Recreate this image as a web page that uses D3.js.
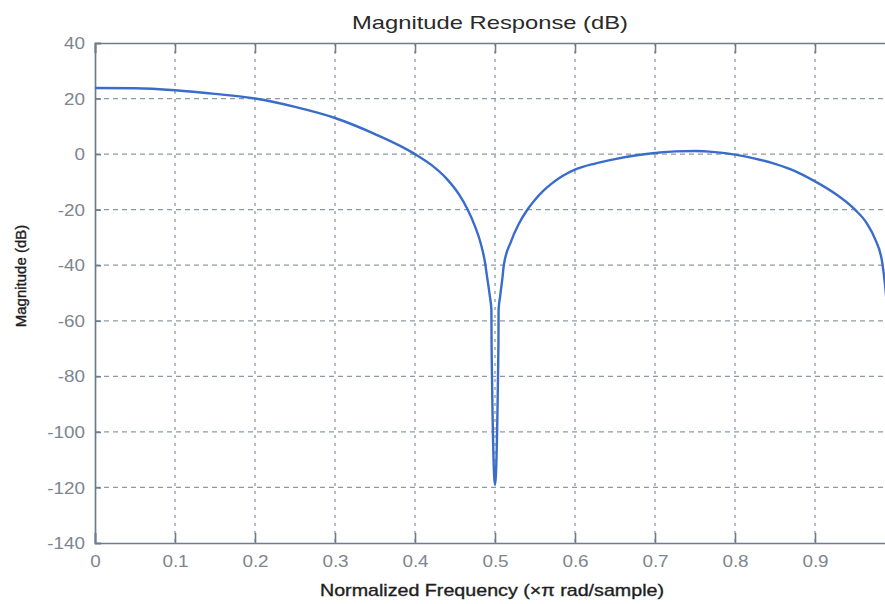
<!DOCTYPE html>
<html><head><meta charset="utf-8">
<script src="https://cdn.jsdelivr.net/npm/d3@7"></script>
<style>
body{margin:0;background:#fff;}
svg{display:block;}
</style></head>
<body>
<script>
const freq = [0,0.05,0.1,0.15,0.2,0.25,0.3,0.35,0.4,0.42,0.44,0.455,0.465,0.475,0.482,0.4875,0.49,0.4935,0.4955,0.4957,0.5,0.5043,0.5045,0.5065,0.5095,0.511,0.52,0.53,0.54,0.55,0.56,0.57,0.58,0.59,0.6,0.625,0.65,0.675,0.7,0.725,0.75,0.775,0.8,0.825,0.85,0.875,0.9,0.925,0.95,0.965,0.975,0.984,0.9875,0.992];
const magDb = [23.8,23.7,23.0,21.7,20.0,17.0,13.0,7.2,0.0,-3.8,-9,-14.5,-19.5,-26,-32,-39,-44,-51,-56,-68,-119,-68,-56,-51,-44,-40,-31.5,-25,-20.2,-16.4,-13.3,-10.8,-8.7,-7.0,-5.6,-3.4,-1.8,-0.5,0.4,1.0,1.1,0.7,-0.2,-1.6,-3.5,-6.1,-9.8,-14.2,-20,-25,-30.5,-39,-47,-62];
const xTicks = [0,0.1,0.2,0.3,0.4,0.5,0.6,0.7,0.8,0.9];
const yTicks = [40,20,0,-20,-40,-60,-80,-100,-120,-140];

const W = 885, H = 604;
const m = {left:95, top:43, right:895, bottom:543};
const FONT = "Liberation Sans, Arial, sans-serif";
const svg = d3.select("body").append("svg").attr("width",W).attr("height",H);
const x = d3.scaleLinear().domain([0,1]).range([m.left,m.right]);
const y = d3.scaleLinear().domain([-140,40]).range([m.bottom,m.top]);
const gridCol = "#8d9aa6", axisCol = "#6e7d8c", labCol = "#7c8690";

svg.append("defs").append("clipPath").attr("id","clip")
  .append("rect").attr("x",m.left).attr("y",m.top).attr("width",m.right-m.left).attr("height",m.bottom-m.top);

// grid
svg.append("g").selectAll("line").data(xTicks.filter(d=>d>0)).join("line")
  .attr("x1",d=>x(d)).attr("x2",d=>x(d)).attr("y1",m.top).attr("y2",m.bottom)
  .attr("stroke",gridCol).attr("stroke-width",1.3).attr("stroke-dasharray","3,5");
svg.append("g").selectAll("line").data(yTicks.filter(d=>d>-140&&d<40)).join("line")
  .attr("x1",m.left).attr("x2",m.right).attr("y1",d=>y(d)).attr("y2",d=>y(d))
  .attr("stroke",gridCol).attr("stroke-width",1.3).attr("stroke-dasharray","5,4");

// axes (ticks inward)
const gx = svg.append("g").attr("transform",`translate(0,${m.bottom})`)
  .call(d3.axisBottom(x).tickValues(xTicks).tickSize(-10).tickPadding(13).tickFormat(d=>d===0?"0":d3.format(".1f")(d)));
const gxt = svg.append("g").attr("transform",`translate(0,${m.top})`)
  .call(d3.axisTop(x).tickValues(xTicks).tickSize(-10).tickFormat(""));
const gy = svg.append("g").attr("transform",`translate(${m.left},0)`)
  .call(d3.axisLeft(y).tickValues(yTicks).tickSize(-6).tickPadding(10).tickFormat(d=>String(d)));
[gx,gxt,gy].forEach(g=>{
  g.select(".domain").attr("stroke",axisCol).attr("stroke-width",1.7);
  g.selectAll(".tick line").attr("stroke",axisCol).attr("stroke-width",1.6);
  g.selectAll("text").attr("fill",labCol).attr("font-family",FONT).attr("font-size",16);
});
gx.selectAll("text").attr("transform","scale(1.18,1)");
gy.selectAll("text").attr("dy","0.35em").attr("x",0).attr("transform","translate(-10,0) scale(1.18,1)");

// curve
svg.append("path").datum(freq.map((f,i)=>[f,magDb[i]]))
  .attr("clip-path","url(#clip)")
  .attr("fill","none").attr("stroke","#3a6cc9").attr("stroke-width",2.4)
  .attr("stroke-linejoin","round")
  .attr("d",d3.line().curve(d3.curveMonotoneX).x(d=>x(d[0])).y(d=>y(d[1])));

// labels
svg.append("text").attr("x",490).attr("y",29).attr("text-anchor","middle")
  .attr("font-family",FONT).attr("font-size",19).attr("fill","#2a2a2a")
  .attr("textLength",276).attr("lengthAdjust","spacingAndGlyphs")
  .text("Magnitude Response (dB)");
svg.append("text").attr("x",492).attr("y",596).attr("text-anchor","middle")
  .attr("font-family",FONT).attr("font-size",17).attr("fill","#1e1e1e")
  .attr("stroke","#1e1e1e").attr("stroke-width",0.35)
  .attr("textLength",344).attr("lengthAdjust","spacingAndGlyphs")
  .text("Normalized Frequency (×π rad/sample)");
svg.append("text").attr("transform",`translate(26,276) rotate(-90)`).attr("text-anchor","middle")
  .attr("font-family",FONT).attr("font-size",15).attr("fill","#1e1e1e")
  .attr("stroke","#1e1e1e").attr("stroke-width",0.35)
  .text("Magnitude (dB)");
</script>
</body></html>
